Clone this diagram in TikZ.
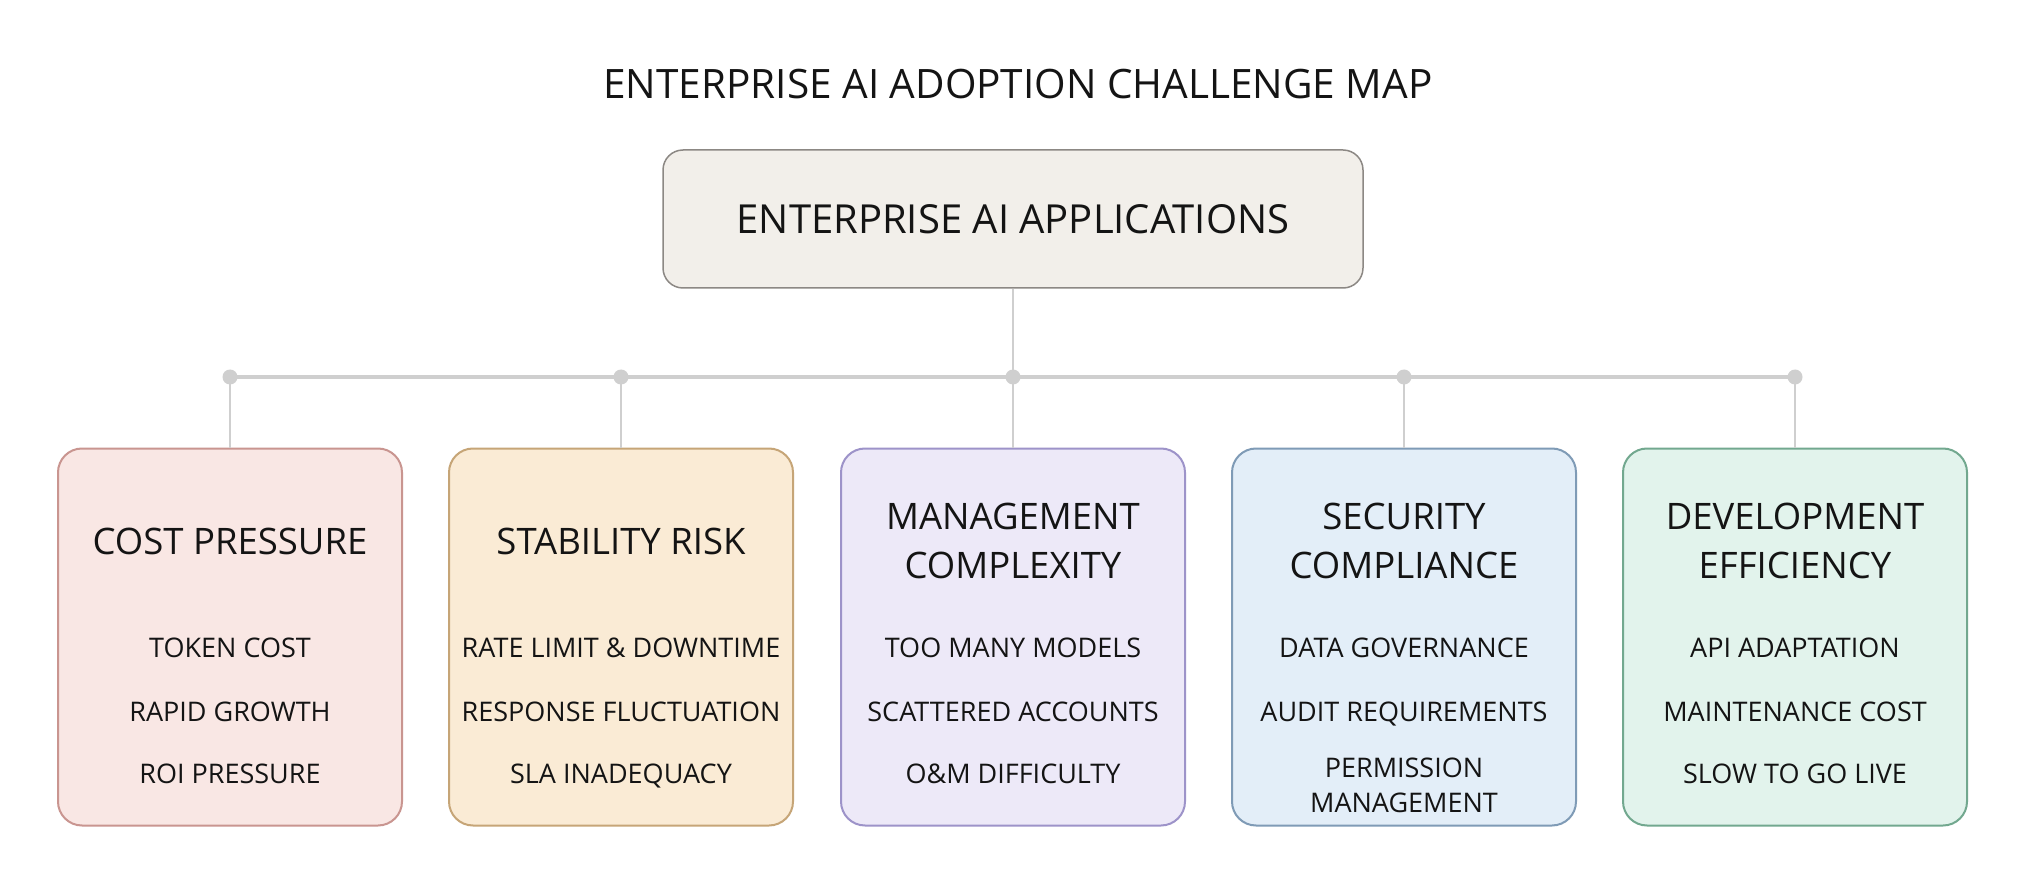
\documentclass[tikz,border=0pt]{standalone}
\usepackage{fontspec}
\setmainfont{Open Sans}
\usetikzlibrary{positioning}

\definecolor{inkblack}{HTML}{141414}
\definecolor{wirgray}{HTML}{CFCFCF}
\definecolor{hubfill}{HTML}{F2EFEA}
\definecolor{hubline}{HTML}{8C8884}
\definecolor{costfill}{HTML}{F9E7E4}
\definecolor{costline}{HTML}{C99590}
\definecolor{stabfill}{HTML}{FAEBD5}
\definecolor{stabline}{HTML}{C6A577}
\definecolor{mgmtfill}{HTML}{EDE9F8}
\definecolor{mgmtline}{HTML}{9D93C9}
\definecolor{secufill}{HTML}{E3EEF8}
\definecolor{seculine}{HTML}{7F9BB6}
\definecolor{devfill}{HTML}{E2F3EC}
\definecolor{devline}{HTML}{72A88F}

\tikzset{
  hubbox/.style={draw=hubline, fill=hubfill, line width=1.5pt, rounded corners=20pt,
    minimum width=700pt, minimum height=138pt, text=inkblack, text depth=0pt,
    font=\fontsize{40}{46}\selectfont},
  card/.style 2 args={draw=#2, fill=#1, line width=2pt, rounded corners=24pt,
    minimum width=344pt, minimum height=377pt},
  heading/.style={align=center, text=inkblack, text depth=0pt, font=\fontsize{36.5}{49}\selectfont},
  item/.style={align=center, text=inkblack, text depth=0pt, font=\fontsize{27}{35}\selectfont},
  stem/.style={draw=wirgray, line width=2pt},
  bus/.style={draw=wirgray, line width=3.5pt},
}

\begin{document}
\begin{tikzpicture}[x=1pt, y=-1pt]
			%%%%% START %%%%%
			\useasboundingbox[fill=white] (0, 0) rectangle (2032, 882);
			
			\node[text=inkblack, text depth=0pt, font=\fontsize{40.5}{46}\selectfont] (title) at (1018, 84) {ENTERPRISE AI ADOPTION CHALLENGE MAP};
			
			\node[hubbox] (hub) at (1013, 219) {ENTERPRISE AI APPLICATIONS};
			
			\coordinate (jcost) at (230, 377);
			\coordinate (jstab) at (621, 377);
			\coordinate (jmgmt) at (1013, 377);
			\coordinate (jsecu) at (1404, 377);
			\coordinate (jdev) at (1795, 377);
			
			\node[card={costfill}{costline}] (cost) at (230, 637) {};
			\node[card={stabfill}{stabline}] (stab) at (621, 637) {};
			\node[card={mgmtfill}{mgmtline}] (mgmt) at (1013, 637) {};
			\node[card={secufill}{seculine}] (secu) at (1404, 637) {};
			\node[card={devfill}{devline}] (dev) at (1795, 637) {};
			
			\draw[bus] (jcost) -- (jdev);
			\draw[stem] (hub.south) -- (jmgmt);
			\draw[stem] (jcost) -- (cost.north);
			\draw[stem] (jstab) -- (stab.north);
			\draw[stem] (jmgmt) -- (mgmt.north);
			\draw[stem] (jsecu) -- (secu.north);
			\draw[stem] (jdev) -- (dev.north);
			\foreach \j in {jcost, jstab, jmgmt, jsecu, jdev}
				\fill[wirgray] (\j) circle (7.5);
			
			% cost
			\node[heading] (costhead) at (230, 541) {COST PRESSURE};
			\node[item] (costa) at (230, 648) {TOKEN COST};
			\node[item] (costb) at (230, 712) {RAPID GROWTH};
			\node[item] (costc) at (230, 774) {ROI PRESSURE};
			
			% stability
			\node[heading] (stabhead) at (621, 541) {STABILITY RISK};
			\node[item] (staba) at (621, 648) {RATE LIMIT \& DOWNTIME};
			\node[item] (stabb) at (621, 712) {RESPONSE FLUCTUATION};
			\node[item] (stabc) at (621, 774) {SLA INADEQUACY};
			
			% management
			\node[heading] (mgmthead) at (1013, 541) {MANAGEMENT\\COMPLEXITY};
			\node[item] (mgmta) at (1013, 648) {TOO MANY MODELS};
			\node[item] (mgmtb) at (1013, 712) {SCATTERED ACCOUNTS};
			\node[item] (mgmtc) at (1013, 774) {O\&M DIFFICULTY};
			
			% security
			\node[heading] (secuhead) at (1404, 541) {SECURITY\\COMPLIANCE};
			\node[item] (secua) at (1404, 648) {DATA GOVERNANCE};
			\node[item] (secub) at (1404, 712) {AUDIT REQUIREMENTS};
			\node[item] (secuc) at (1404, 785) {PERMISSION\\MANAGEMENT};
			
			% development
			\node[heading] (devhead) at (1795, 541) {DEVELOPMENT\\EFFICIENCY};
			\node[item] (deva) at (1795, 648) {API ADAPTATION};
			\node[item] (devb) at (1795, 712) {MAINTENANCE COST};
			\node[item] (devc) at (1795, 774) {SLOW TO GO LIVE};
			
			%%%%% END %%%%%
\end{tikzpicture}
\end{document}
